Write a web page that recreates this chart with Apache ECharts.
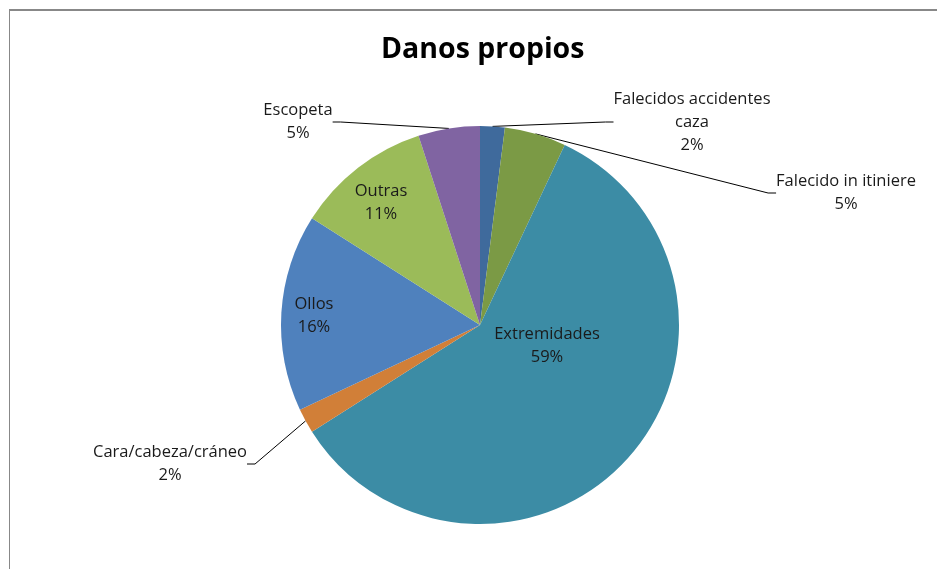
<!DOCTYPE html>
<html>
<head>
<meta charset="utf-8">
<script src="https://cdn.jsdelivr.net/npm/echarts@6/dist/echarts.min.js"></script>
<style>
  html, body { margin: 0; padding: 0; background: #fff; }
  #chart { width: 937px; height: 569px; }
</style>
</head>
<body>
<div id="chart"></div>
<script>
  const categories = ['Falecidos accidentes caza', 'Falecido in itiniere', 'Extremidades', 'Cara/cabeza/cráneo', 'Ollos', 'Outras', 'Escopeta']
  const values = [2, 5, 59, 2, 16, 11, 5]
  const color = ['#3f6a9c', '#7b9a45', '#3c8ca5', '#d17f38', '#4f81bd', '#9bbb59', '#8064a2']
  // label text in the reference: wrapped names
  const labelNames = ['Falecidos accidentes\ncaza', 'Falecido in itiniere', 'Extremidades', 'Cara/cabeza/cráneo', 'Ollos', 'Outras', 'Escopeta']
  const inside = [false, false, true, false, true, true, false]
  // where each label sits (text centre)
  const labelPos = {
    0: { x: 692, y: 122 },
    1: { x: 846, y: 193 },
    2: { x: 547, y: 346 },
    3: { x: 170, y: 464 },
    4: { x: 314, y: 316 },
    5: { x: 381, y: 203 },
    6: { x: 298, y: 122 },
  }

  const dataOptions = values.map((v, i) => ({
    value: v,
    name: categories[i],
    itemStyle: { color: color[i] },
    label: inside[i] ? { position: 'inside' } : { position: 'outside' },
    labelLine: { show: !inside[i] },
  }))

  const chart = echarts.init(document.getElementById('chart'))
  chart.setOption({
    animation: false,
    title: {
      text: 'Danos propios',
      left: 376,
      top: 30,
      textStyle: { fontFamily: 'Open Sans', fontSize: 28.5, fontWeight: 'bold', color: '#000' },
    },
    graphic: [
      { type: 'line', shape: { x1: 9, y1: 10, x2: 937, y2: 10 }, style: { stroke: '#888', lineWidth: 2 } },
      { type: 'line', shape: { x1: 9.5, y1: 9, x2: 9.5, y2: 569 }, style: { stroke: '#888', lineWidth: 1 } },
    ],
    series: [
      {
        type: 'pie',
        center: [480, 325],
        radius: 199,
        startAngle: 90,
        clockwise: true,
        data: dataOptions,
        itemStyle: { borderWidth: 0 },
        label: {
          formatter: (p) => labelNames[p.dataIndex] + '\n' + Math.round(p.percent) + '%',
          fontFamily: 'Open Sans',
          fontSize: 16.5,
          lineHeight: 23,
          color: '#1a1a1a',
          align: 'center',
        },
        labelLine: {
          length: 20,
          length2: 8,
          lineStyle: { color: '#000', width: 1 },
        },
        labelLayout: (params) => {
          const p = labelPos[params.dataIndex]
          if (!p) return {}
          return { x: p.x, y: p.y, align: 'center', verticalAlign: 'middle' }
        },
      },
    ],
  })
</script>
</body>
</html>
